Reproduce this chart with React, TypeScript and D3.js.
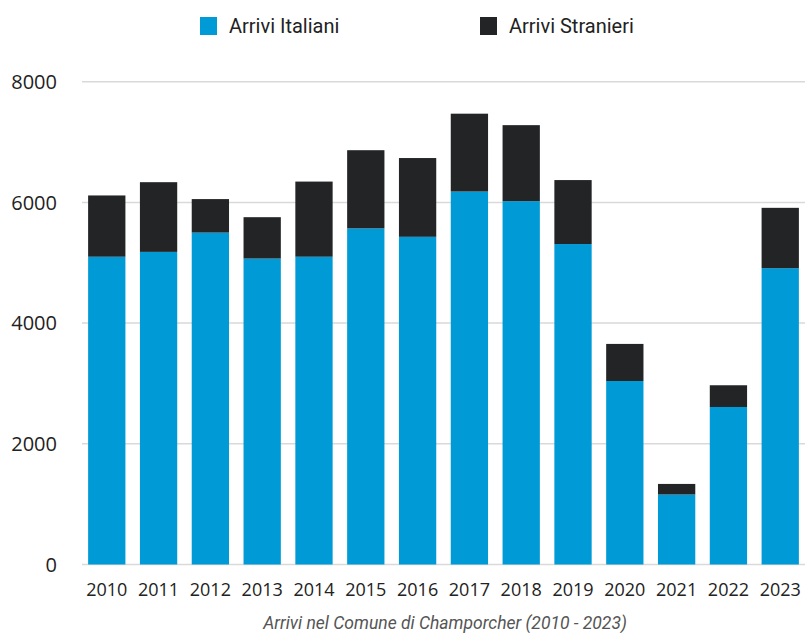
import { useEffect, useRef } from "react";
import * as d3 from "d3";

const YEARS = ["2010", "2011", "2012", "2013", "2014", "2015", "2016", "2017", "2018", "2019", "2020", "2021", "2022", "2023"];
const ITALIANI = [5100, 5180, 5500, 5070, 5100, 5570, 5430, 6180, 6020, 5310, 3040, 1160, 2610, 4910];
const STRANIERI = [1015, 1155, 555, 685, 1245, 1295, 1305, 1290, 1260, 1060, 615, 175, 360, 1000];
const Y_TICKS = [0, 2000, 4000, 6000, 8000];
const SERIES = ["Arrivi Italiani", "Arrivi Stranieri"];
const CAPTION = "Arrivi nel Comune di Champorcher (2010 - 2023)";

const W = 805;
const H = 633;
const PLOT = { left: 82, right: 805, top: 81.7, bottom: 564.5 };
const BLUE = "#009bd6";
const DARK = "#232426";
const GRID = "#d9d9d9";
const TEXT = "#222222";
const NUM_FONT = "'Open Sans', sans-serif";
const NARROW_FONT = "'Roboto', sans-serif";

type Row = { year: string; it: number; st: number };

export default function App() {
  const svgRef = useRef<SVGSVGElement>(null);

  useEffect(() => {
    const svg = d3.select(svgRef.current);
    svg.selectAll("*").remove();

    const rows: Row[] = YEARS.map((year, i) => ({ year, it: ITALIANI[i], st: STRANIERI[i] }));

    const x = d3
      .scaleBand<string>()
      .domain(YEARS)
      .range([PLOT.left, PLOT.right])
      .paddingInner(0.28)
      .paddingOuter(0.118);

    const y = d3.scaleLinear().domain([0, 8000]).range([PLOT.bottom, PLOT.top]);

    // grid
    svg
      .append("g")
      .selectAll("line")
      .data(Y_TICKS)
      .enter()
      .append("line")
      .attr("x1", PLOT.left)
      .attr("x2", PLOT.right)
      .attr("y1", (d) => y(d))
      .attr("y2", (d) => y(d))
      .attr("stroke", GRID)
      .attr("stroke-width", 1.5);

    // y labels
    svg
      .append("g")
      .selectAll("text")
      .data(Y_TICKS)
      .enter()
      .append("text")
      .attr("x", 57)
      .attr("y", (d) => y(d))
      .attr("dy", "0.36em")
      .attr("text-anchor", "end")
      .attr("fill", TEXT)
      .attr("font-family", NUM_FONT)
      .attr("font-size", 20)
      .text((d) => String(d));

    const stack = d3.stack<Row>().keys(["it", "st"])(rows);
    const colors = [BLUE, DARK];

    svg
      .append("g")
      .selectAll("g")
      .data(stack)
      .enter()
      .append("g")
      .attr("fill", (_, i) => colors[i])
      .selectAll("rect")
      .data((s) => s)
      .enter()
      .append("rect")
      .attr("x", (d) => x(d.data.year) as number)
      .attr("width", x.bandwidth())
      .attr("y", (d) => y(d[1]))
      .attr("height", (d) => y(d[0]) - y(d[1]));

    // x labels
    svg
      .append("g")
      .selectAll("text")
      .data(YEARS)
      .enter()
      .append("text")
      .attr("x", (d) => (x(d) as number) + x.bandwidth() / 2)
      .attr("y", 590)
      .attr("dy", "0.36em")
      .attr("text-anchor", "middle")
      .attr("fill", TEXT)
      .attr("font-family", NUM_FONT)
      .attr("font-size", 18)
      .text((d) => d);

    // legend
    const legendX = [200, 480];
    const lg = svg
      .append("g")
      .selectAll("g")
      .data(SERIES)
      .enter()
      .append("g")
      .attr("transform", (_, i) => `translate(${legendX[i]},0)`);
    lg.append("rect")
      .attr("x", 0)
      .attr("y", 17)
      .attr("width", 17)
      .attr("height", 18)
      .attr("fill", (_, i) => colors[i]);
    lg.append("text")
      .attr("x", 29)
      .attr("y", 26)
      .attr("dy", "0.36em")
      .attr("fill", TEXT)
      .attr("font-family", NARROW_FONT)
      .attr("font-size", 20)
      .text((d) => d);

    // caption
    svg
      .append("text")
      .attr("x", 445)
      .attr("y", 623)
      .attr("dy", "0.36em")
      .attr("text-anchor", "middle")
      .attr("fill", "#555555")
      .attr("font-family", NARROW_FONT)
      .attr("font-style", "italic")
      .attr("font-size", 17.5)
      .text(CAPTION);
  }, []);

  return (
    <svg
      ref={svgRef}
      width={W}
      height={H}
      style={{ position: "absolute", left: 0, top: 0, background: "#ffffff", display: "block" }}
    />
  );
}
